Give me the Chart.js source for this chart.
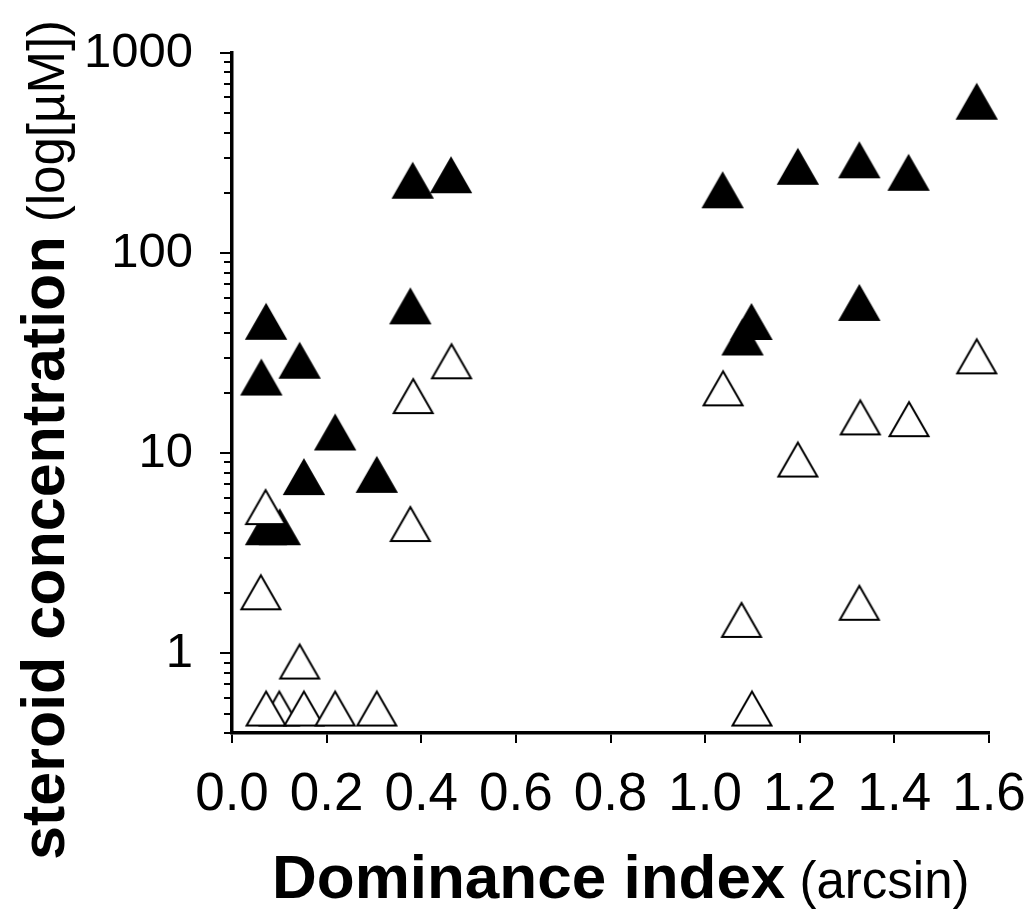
<!DOCTYPE html>
<html>
<head>
<meta charset="utf-8">
<script src="https://cdn.jsdelivr.net/npm/chart.js@4.4.1/dist/chart.umd.min.js"></script>
<style>
html,body{margin:0;padding:0;background:#fff;}
#wrap{width:1029px;height:911px;position:relative;}
</style>
</head>
<body>
<div id="wrap"><canvas id="c" width="1029" height="911"></canvas></div>
<script>
// ---- data ----
const xFilled = [0.072, 0.143, 0.062, 0.218, 0.152, 0.306, 0.072, 0.101, 0.377, 0.382, 0.463, 1.037, 1.196, 1.326, 1.430, 1.574, 1.326, 1.098, 1.079];
const yFilled = [45.4, 29.0, 23.9, 12.7, 7.6, 7.8, 4.27, 4.27, 54.2, 230, 245, 206, 270, 291, 252, 571, 56.4, 45.3, 37.9];

const xOpen = [0.464, 0.383, 0.071, 0.377, 0.061, 0.143, 0.100, 0.072, 0.152, 0.218, 0.306, 1.038, 1.328, 1.431, 1.196, 1.326, 1.077, 1.099, 1.574];
const yOpen = [28.8, 19.3, 5.38, 4.43, 2.02, 0.91, 0.53, 0.53, 0.53, 0.53, 0.53, 21.1, 15.1, 14.8, 9.3, 1.79, 1.47, 0.53, 30.5];

const xTickValues = [0, 0.2, 0.4, 0.6, 0.8, 1.0, 1.2, 1.4, 1.6];
const xTickLabels = ['0.0', '0.2', '0.4', '0.6', '0.8', '1.0', '1.2', '1.4', '1.6'];
const yTickValues = [1, 10, 100, 1000];
const yTickLabels = ['1', '10', '100', '1000'];
const yMinorValues = [0.4, 0.5, 0.6, 0.7, 0.8, 0.9, 2, 3, 4, 5, 6, 7, 8, 9, 20, 30, 40, 50, 60, 70, 80, 90, 200, 300, 400, 500, 600, 700, 800, 900];

const xTitleBold = 'Dominance index';
const xTitleNormal = '(arcsin)';
const yTitleBold = 'steroid concentration';
const yTitleNormal = '(log[µM])';

// ---- marker images ----
function triangleImage(fill) {
  const c = document.createElement('canvas');
  c.width = 44; c.height = 40;
  const g = c.getContext('2d');
  g.beginPath();
  g.moveTo(22, 3);
  g.lineTo(41.5, 37);
  g.lineTo(2.5, 37);
  g.closePath();
  g.fillStyle = fill;
  g.fill();
  g.lineWidth = 2;
  g.strokeStyle = '#000';
  g.stroke();
  return c;
}
const filledTri = triangleImage('#000');
const openTri = triangleImage('#fff');

const toPoints = (xs, ys) => xs.map((x, i) => ({ x: x, y: ys[i] }));

const FONT = '"Liberation Sans", Arial, sans-serif';

const minorTicks = {
  id: 'minorTicks',
  afterDatasetsDraw(chart) {
    const ys = chart.scales.y;
    const ctx = chart.ctx;
    const left = chart.chartArea.left;
    ctx.save();
    ctx.strokeStyle = '#000';
    ctx.lineWidth = 2;
    yMinorValues.forEach(v => {
      const py = Math.round(ys.getPixelForValue(v));
      ctx.beginPath();
      ctx.moveTo(left - 8, py);
      ctx.lineTo(left, py);
      ctx.stroke();
    });
    ctx.restore();
  }
};

const axisTitles = {
  id: 'axisTitles',
  afterDraw(chart) {
    const ctx = chart.ctx;
    const bold = 'bold 62px ' + FONT;
    const norm = '51px ' + FONT;
    ctx.save();
    ctx.fillStyle = '#000';
    ctx.textAlign = 'left';
    ctx.textBaseline = 'alphabetic';
    // x title
    ctx.font = bold;
    const wb = ctx.measureText(xTitleBold).width;
    ctx.fillText(xTitleBold, 272, 898);
    ctx.font = norm;
    const sp = ctx.measureText(' ').width;
    ctx.fillText(xTitleNormal, 272 + wb + sp, 898);
    // y title
    ctx.translate(64, 860);
    ctx.rotate(-Math.PI / 2);
    ctx.font = 'bold 61px ' + FONT;
    const wyb = ctx.measureText(yTitleBold).width;
    ctx.fillText(yTitleBold, 0, 0);
    ctx.font = norm;
    ctx.fillText(yTitleNormal, wyb + sp, 0);
    ctx.restore();
  }
};

new Chart(document.getElementById('c'), {
  type: 'scatter',
  data: {
    datasets: [
      {
        label: 'open',
        data: toPoints(xOpen, yOpen),
        pointStyle: openTri,
        pointRadius: 20,
        order: 0,
        clip: false
      },
      {
        label: 'filled',
        data: toPoints(xFilled, yFilled),
        pointStyle: filledTri,
        pointRadius: 20,
        order: 1,
        clip: false
      }
    ]
  },
  options: {
    responsive: false,
    animation: false,
    devicePixelRatio: 1,
    layout: { padding: { left: 0, top: 53, right: 40, bottom: 0 } },
    plugins: { legend: { display: false }, tooltip: { enabled: false } },
    scales: {
      x: {
        type: 'linear',
        min: 0,
        max: 1.6,
        afterBuildTicks: (s) => { s.ticks = xTickValues.map(v => ({ value: v })); },
        afterFit: (s) => { s.height = 178; s.paddingLeft = 0; s.paddingRight = 0; },
        border: { display: true, color: '#000', width: 3.5 },
        grid: { display: true, drawOnChartArea: false, drawTicks: true, tickLength: 10, color: '#000', lineWidth: 2 },
        ticks: {
          autoSkip: false,
          maxRotation: 0,
          padding: 21,
          color: '#000',
          font: { family: FONT, size: 53 },
          callback: (v, i) => xTickLabels[i]
        }
      },
      y: {
        type: 'logarithmic',
        min: 0.4,
        max: 1000,
        afterBuildTicks: (s) => { s.ticks = yTickValues.map(v => ({ value: v })); },
        afterFit: (s) => { s.width = 232; s.paddingTop = 0; s.paddingBottom = 0; },
        border: { display: true, color: '#000', width: 3.5 },
        grid: { display: true, drawOnChartArea: false, drawTicks: true, tickLength: 12, color: '#000', lineWidth: 2 },
        ticks: {
          autoSkip: false,
          padding: 27,
          color: '#000',
          font: { family: FONT, size: 49 },
          callback: (v, i) => yTickLabels[i]
        }
      }
    }
  },
  plugins: [minorTicks, axisTitles]
});
</script>
</body>
</html>
